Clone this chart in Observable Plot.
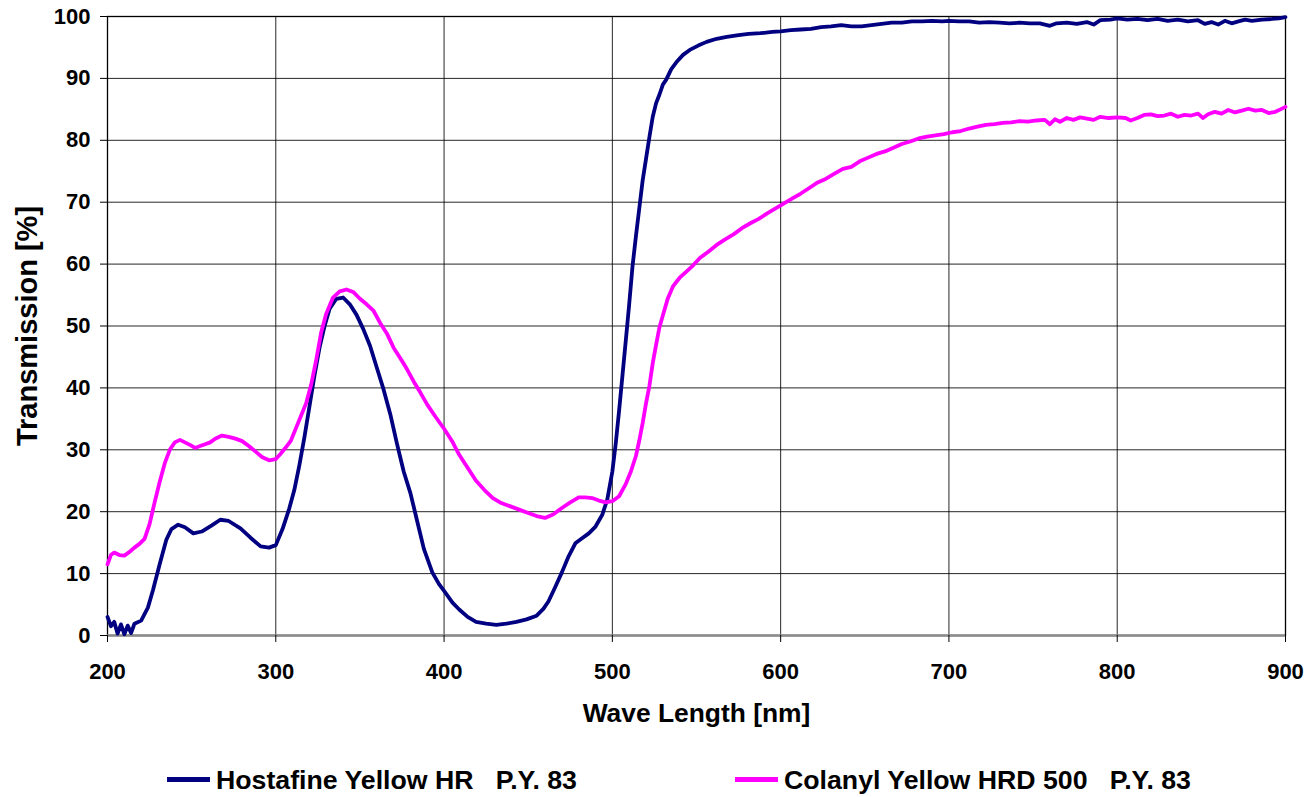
<!DOCTYPE html>
<html>
<head>
<meta charset="utf-8">
<script src="https://cdn.jsdelivr.net/npm/d3@7"></script>
<script src="https://cdn.jsdelivr.net/npm/@observablehq/plot@0.6"></script>
<style>
  html, body { margin: 0; padding: 0; background: #fff; }
  #wrap { position: relative; width: 1309px; height: 797px; overflow: hidden; font-family: "Liberation Sans", Arial, sans-serif; }
  .leg { position: absolute; top: 764px; font-weight: bold; font-size: 26.7px; white-space: pre; line-height: 32px; color: #000; }
  .sw { position: absolute; height: 5px; }
</style>
</head>
<body>
<div id="wrap"></div>
<script>
// Series 1: Hostafine Yellow HR  P.Y. 83
const hostWL = [200,202,204,206,208,210,212,214,216,220,224,227,231,235,238,242,246,251,256,262,267,272,279,285,291,296,300,304,308,311,314,317,320,323,326,329,332,336,340,344,348,352,356,360,364,368,372,376,380,384,388,393,397,400,405,409,414,419,425,431,437,443,449,455,459,462,466,470,474,478,482,486,490,494,497,500,502,504,506,508,510,512,514,516,518,520,522,524,526,528,530,532,535,538,542,546,551,556,562,568,575,581,588,595,600,606,612,618,624,630,636,642,648,654,660,666,672,678,684,690,696,700,706,712,718,724,730,736,742,748,754,760,764,770,776,782,786,790,796,800,806,812,818,824,830,836,842,848,852,856,860,864,868,872,876,880,886,892,896,900];
const hostT = [3.0,1.5,2.2,0.3,1.8,0.2,1.6,0.4,1.9,2.4,4.5,7.3,11.5,15.5,17.2,17.9,17.5,16.5,16.8,17.8,18.7,18.5,17.3,15.8,14.4,14.2,14.6,17.2,20.5,23.5,27.5,32.0,37.0,42.0,46.5,50.0,52.8,54.4,54.6,53.5,51.8,49.5,46.8,43.3,39.8,35.8,31.0,26.5,23.0,18.5,14.0,10.2,8.3,7.2,5.3,4.2,3.0,2.2,1.9,1.7,1.9,2.2,2.6,3.2,4.3,5.5,7.8,10.2,12.8,14.9,15.7,16.5,17.6,19.5,22.0,26.5,31.0,36.3,42.0,47.7,53.5,59.7,64.5,69.0,73.5,77.0,80.5,83.8,86.0,87.4,89.0,89.8,91.5,92.6,93.8,94.6,95.3,95.9,96.4,96.7,97.0,97.2,97.3,97.5,97.6,97.8,97.9,98.0,98.3,98.4,98.6,98.4,98.4,98.6,98.8,99.0,99.0,99.2,99.2,99.3,99.2,99.3,99.2,99.2,99.0,99.1,99.0,98.9,99.0,98.9,98.9,98.5,98.9,99.0,98.8,99.1,98.7,99.4,99.5,99.7,99.5,99.6,99.4,99.6,99.3,99.5,99.2,99.4,98.8,99.1,98.7,99.3,98.9,99.2,99.5,99.3,99.5,99.6,99.7,99.9];

// Series 2: Colanyl Yellow HRD 500  P.Y. 83
const colWL = [200,202,204,207,210,213,216,219,222,225,228,231,234,237,240,243,246,249,252,255,258,261,264,268,272,276,280,284,288,292,296,300,303,306,309,312,315,318,321,324,327,330,334,338,342,346,350,354,358,362,366,370,374,378,382,386,390,395,400,405,409,414,419,424,429,434,439,445,450,455,460,465,470,475,480,484,488,492,496,500,504,508,511,514,516,518,520,522,524,526,528,530,533,536,540,544,548,552,557,562,567,572,577,582,587,592,597,602,607,612,617,622,627,632,637,642,647,652,657,662,667,672,677,682,687,692,697,702,707,712,717,722,727,732,737,742,747,752,757,760,763,766,770,774,778,782,786,790,795,800,805,808,812,816,820,824,828,832,836,840,844,848,851,854,858,862,866,870,874,878,882,886,890,894,897,900];
const colT = [11.5,13.0,13.4,13.0,12.9,13.5,14.2,14.8,15.6,18.0,21.5,24.8,27.8,30.0,31.2,31.6,31.2,30.8,30.3,30.6,30.9,31.2,31.8,32.3,32.1,31.8,31.4,30.6,29.7,28.8,28.3,28.5,29.4,30.4,31.5,33.5,35.5,37.5,40.5,44.5,49.0,52.0,54.6,55.6,55.9,55.5,54.4,53.5,52.5,50.5,48.8,46.5,44.8,43.0,41.0,39.2,37.3,35.3,33.4,31.3,29.2,27.1,25.0,23.5,22.2,21.4,20.9,20.3,19.8,19.3,19.0,19.6,20.6,21.5,22.3,22.3,22.2,21.8,21.5,21.7,22.5,24.5,26.5,29.0,31.5,34.3,37.5,40.3,44.0,47.0,49.8,51.7,54.5,56.4,57.8,58.8,59.8,61.0,62.0,63.1,64.0,64.8,65.8,66.6,67.3,68.2,69.0,69.8,70.6,71.4,72.3,73.2,73.8,74.6,75.4,75.7,76.6,77.2,77.8,78.2,78.8,79.4,79.8,80.3,80.6,80.8,81.0,81.3,81.5,81.9,82.2,82.5,82.6,82.8,82.9,83.1,83.0,83.2,83.3,82.6,83.4,83.0,83.6,83.3,83.7,83.5,83.3,83.8,83.6,83.7,83.6,83.2,83.6,84.1,84.2,83.9,84.0,84.3,83.8,84.1,84.0,84.3,83.6,84.2,84.6,84.3,84.9,84.5,84.8,85.1,84.8,84.9,84.4,84.6,85.0,85.4];

const seriesNames = ["Hostafine Yellow HR   P.Y. 83", "Colanyl Yellow HRD 500   P.Y. 83"];
const seriesColors = ["#000080", "#FF00FF"];
const xTicks = [200,300,400,500,600,700,800,900];
const yTicks = [0,10,20,30,40,50,60,70,80,90,100];
const xLabel = "Wave Length [nm]";
const yLabel = "Transmission [%]";

const host = hostWL.map((w, i) => ({wl: w, t: hostT[i]}));
const col = colWL.map((w, i) => ({wl: w, t: colT[i]}));

const font = "Liberation Sans, Arial, sans-serif";

const chart = Plot.plot({
  width: 1309,
  height: 760,
  marginTop: 16,
  marginLeft: 107,
  marginRight: 24,
  marginBottom: 125,
  style: {fontFamily: font, fontWeight: "bold", fontSize: "22px", color: "#000", background: "#fff", overflow: "visible"},
  x: {domain: [200, 900], ticks: xTicks, label: null},
  y: {domain: [0, 100], ticks: yTicks, label: null},
  marks: [
    Plot.gridX(xTicks, {stroke: "#000", strokeOpacity: 0.85, strokeWidth: 1}),
    Plot.gridY(yTicks, {stroke: "#000", strokeOpacity: 0.85, strokeWidth: 1}),
    Plot.frame({stroke: "#000", strokeWidth: 1.3}),
    Plot.ruleY([0], {stroke: "#8a8a8a", strokeWidth: 2.5}),
    Plot.axisX(xTicks, {tickSize: 7, tickPadding: 21, fontSize: 22, fontWeight: "bold", label: null}),
    Plot.axisY(yTicks, {tickSize: 7, tickPadding: 10, fontSize: 22, fontWeight: "bold", label: null}),
    Plot.line(host, {x: "wl", y: "t", stroke: seriesColors[0], strokeWidth: 3.8, strokeLinejoin: "round"}),
    Plot.line(col, {x: "wl", y: "t", stroke: seriesColors[1], strokeWidth: 3.8, strokeLinejoin: "round"}),
    Plot.text([xLabel], {frameAnchor: "bottom", dy: 86, fontSize: 26.4, fontWeight: "bold", fill: "#000"}),
    Plot.text([yLabel], {frameAnchor: "left", textAnchor: "middle", dx: -80, rotate: -90, fontSize: 29, fontWeight: "bold", fill: "#000"})
  ]
});

const wrap = document.getElementById("wrap");
wrap.appendChild(chart);

// Legend below the SVG
const legendPos = [{sw: 167, tx: 216}, {sw: 735, tx: 784}];
seriesNames.forEach((name, i) => {
  const sw = document.createElement("div");
  sw.className = "sw";
  sw.style.left = legendPos[i].sw + "px";
  sw.style.width = "43px";
  sw.style.top = "777px";
  sw.style.background = seriesColors[i];
  wrap.appendChild(sw);
  const t = document.createElement("div");
  t.className = "leg";
  t.style.left = legendPos[i].tx + "px";
  t.textContent = name;
  wrap.appendChild(t);
});
</script>
</body>
</html>
